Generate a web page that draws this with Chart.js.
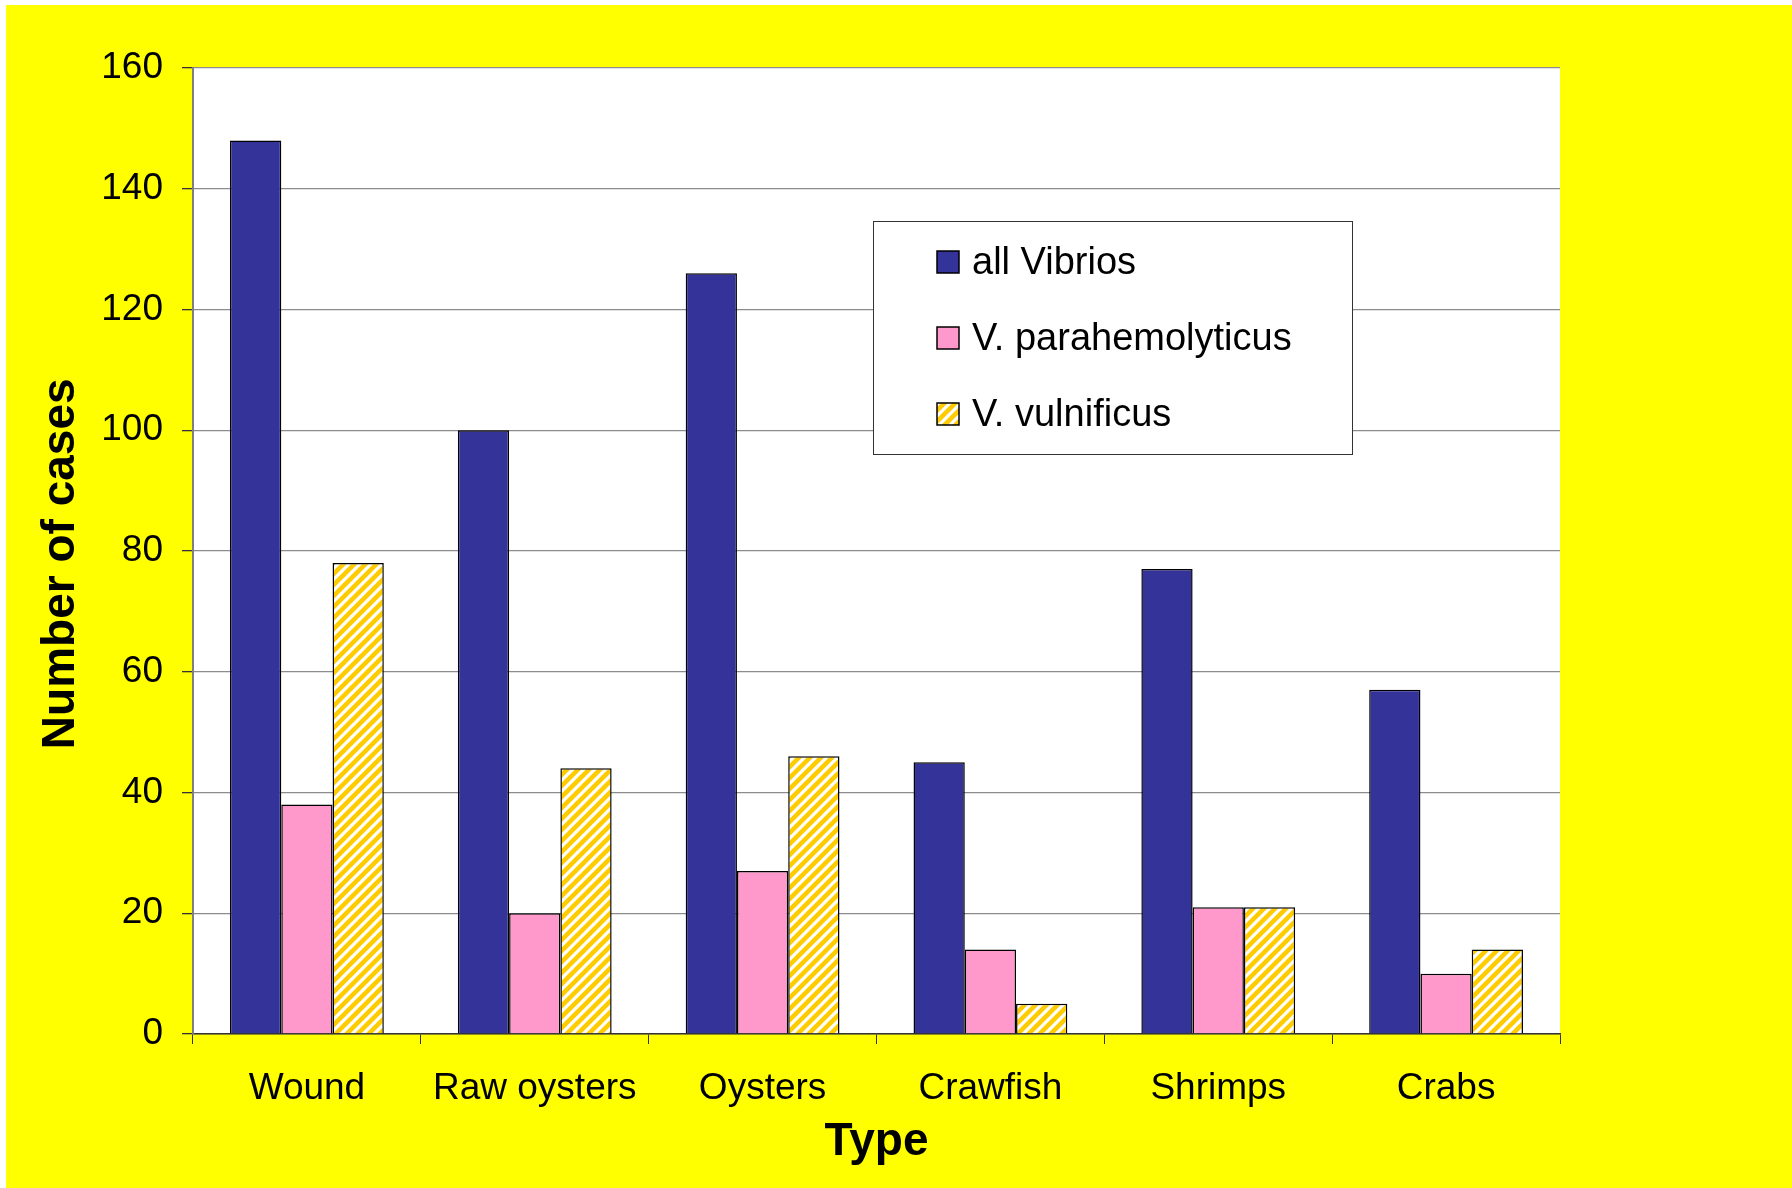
<!DOCTYPE html>
<html>
<head>
<meta charset="utf-8">
<script src="https://cdn.jsdelivr.net/npm/chart.js@4/dist/chart.umd.min.js"></script>
<style>
  html, body { margin: 0; padding: 0; background: #ffffff; }
  #wrap { position: absolute; left: 0; top: 0; width: 1792px; height: 1188px; }
</style>
</head>
<body>
<div id="wrap"><canvas id="chart" width="1792" height="1188"></canvas></div>
<script>
// Vibrio infection cases by exposure type
const categories = ['Wound', 'Raw oysters', 'Oysters', 'Crawfish', 'Shrimps', 'Crabs'];
const allVibrios = [148, 100, 126, 45, 77, 57];
const parahaemolyticus = [38, 20, 27, 14, 21, 10];
const vulnificus = [78, 44, 46, 5, 21, 14];
const seriesNames = ['all Vibrios', 'V. parahemolyticus', 'V. vulnificus'];
const yTicks = [0, 20, 40, 60, 80, 100, 120, 140, 160];

const FONT = "'Liberation Sans', Arial, sans-serif";

// diagonal white-on-gold hatch for V. vulnificus
function makeHatch() {
  const s = 11;
  const c = document.createElement('canvas');
  c.width = s; c.height = s;
  const g = c.getContext('2d');
  g.fillStyle = '#FFCC00';
  g.fillRect(0, 0, s, s);
  g.strokeStyle = '#FFFFFF';
  g.lineWidth = 3.2;
  g.beginPath();
  for (let k = -1; k <= 1; k++) {
    g.moveTo(k * s - 1, s + 1);
    g.lineTo(k * s + s + 1, -1);
  }
  g.stroke();
  return g.createPattern(c, 'repeat');
}
const hatch = makeHatch();

// page background: yellow panel, white chart area
const backgroundPlugin = {
  id: 'panelBackground',
  beforeDraw(chart) {
    const { ctx, chartArea: a } = chart;
    ctx.save();
    ctx.fillStyle = '#FFFFFF';
    ctx.fillRect(0, 0, chart.width, chart.height);
    ctx.fillStyle = '#FFFF00';
    ctx.fillRect(6, 5, chart.width - 6, chart.height - 5);
    ctx.fillStyle = '#FFFFFF';
    ctx.fillRect(a.left, a.top, a.right - a.left, a.bottom - a.top);
    ctx.restore();
  }
};

// boxed legend drawn inside the plot area
const boxLegendPlugin = {
  id: 'boxLegend',
  afterDatasetsDraw(chart) {
    const { ctx } = chart;
    const bx = 873, by = 221, bw = 479, bh = 233;
    ctx.save();
    ctx.fillStyle = '#FFFFFF';
    ctx.fillRect(bx, by, bw, bh);
    ctx.strokeStyle = '#333333';
    ctx.lineWidth = 1;
    ctx.strokeRect(bx + 0.5, by + 0.5, bw, bh);
    ctx.font = '38px ' + FONT;
    ctx.textBaseline = 'middle';
    ctx.textAlign = 'left';
    chart.data.datasets.forEach((ds, i) => {
      const cy = 262 + i * 76;
      ctx.fillStyle = ds.backgroundColor;
      ctx.fillRect(937, cy - 11, 22, 22);
      ctx.strokeStyle = '#000000';
      ctx.lineWidth = 1.5;
      ctx.strokeRect(937, cy - 11, 22, 22);
      ctx.fillStyle = '#000000';
      ctx.fillText(ds.label, 972, cy + 2);
    });
    ctx.restore();
  }
};

const barStyle = { borderColor: '#000000', borderWidth: 1.5, borderSkipped: 'bottom',
                   categoryPercentage: 0.675, barPercentage: 1.0 };

new Chart(document.getElementById('chart'), {
  type: 'bar',
  data: {
    labels: categories,
    datasets: [
      Object.assign({ label: seriesNames[0], data: allVibrios, backgroundColor: '#333399' }, barStyle),
      Object.assign({ label: seriesNames[1], data: parahaemolyticus, backgroundColor: '#FF99CC' }, barStyle),
      Object.assign({ label: seriesNames[2], data: vulnificus, backgroundColor: hatch }, barStyle)
    ]
  },
  options: {
    responsive: false,
    animation: false,
    devicePixelRatio: 1,
    layout: { padding: { left: 0, right: 232, top: 68, bottom: 0 } },
    plugins: {
      legend: { display: false },
      tooltip: { enabled: false }
    },
    scales: {
      x: {
        offset: true,
        grid: { display: true, drawOnChartArea: false, drawTicks: true, tickLength: 10,
                color: '#333333', tickColor: '#333333', lineWidth: 1 },
        border: { display: true, color: '#333333', width: 1.5 },
        ticks: { color: '#000000', font: { family: FONT, size: 37 }, padding: 23, maxRotation: 0 },
        title: { display: true, text: 'Type', color: '#000000',
                 font: { family: FONT, size: 46, weight: 'bold' }, padding: { top: 0, bottom: 18 } },
        afterFit(scale) { scale.height = 1188 - 1034; }
      },
      y: {
        min: 0, max: 160,
        afterBuildTicks(scale) { scale.ticks = yTicks.map(v => ({ value: v })); },
        grid: { color: '#8C8C8C', tickColor: '#333333', lineWidth: 1.3, tickLength: 11, drawTicks: true },
        border: { display: true, color: '#808080', width: 2 },
        ticks: { color: '#000000', font: { family: FONT, size: 37 }, padding: 19 },
        title: { display: true, text: 'Number of cases  ', color: '#000000',
                 font: { family: FONT, size: 46, weight: 'bold' }, padding: { top: 34, bottom: 0 } },
        afterFit(scale) { scale.width = 193; }
      }
    }
  },
  plugins: [backgroundPlugin, boxLegendPlugin]
});
</script>
</body>
</html>
